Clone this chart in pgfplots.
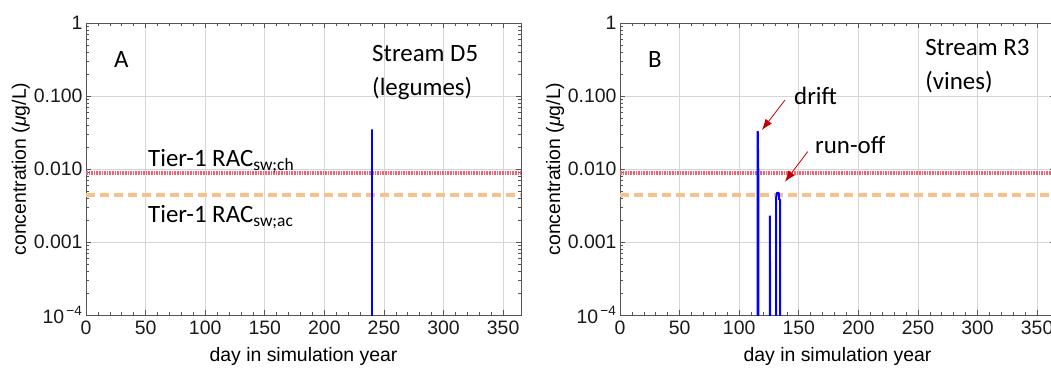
\documentclass[border=0pt]{standalone}
\usepackage{pgfplots}
\pgfplotsset{compat=1.18}
\usepackage{fontspec}
\setmainfont{Liberation Sans}
\newfontfamily\calib{Carlito}
\usetikzlibrary{arrows.meta}
\definecolor{refred}{HTML}{EE6275}
\definecolor{reforange}{HTML}{FBBF8A}
\definecolor{gridgray}{HTML}{D6D6D6}
\definecolor{framegray}{HTML}{555555}
\definecolor{arrowred}{HTML}{C00000}
\pgfplotsset{
  /pgfplots/mypanel/.style={
    scale only axis, width=435bp, height=292bp,
    xmin=0, xmax=365, ymin=1e-4, ymax=1,
    xtick={0,50,...,350}, minor x tick num=4,
    ytick={1e-4,1e-3,1e-2,1e-1,1},
    yticklabels={10\textsuperscript{\,−4},0.001,0.010,0.100,1},
    /pgf/number format/assume math mode=true,
    tick label style={font=\fontsize{19.5}{21}\selectfont, text=black!90},
    xticklabel style={yshift=-2bp},
    label style={font=\fontsize{19.5}{21}\selectfont},
    xlabel={day in simulation year},
    ylabel={concentration (\textit{μ}g/L)},
    xlabel style={yshift=-6bp},
    ylabel style={yshift=-3bp},
    grid=major, major grid style={gridgray, line width=0.8bp},
    axis line style={framegray, line width=0.8bp},
    major tick length=5bp, minor tick length=3bp,
    every tick/.style={framegray, line width=0.6bp},
  },
}
\begin{document}
\begin{tikzpicture}
\path[use as bounding box] (0,0) rectangle (1051bp,370bp);
% Panel A
\begin{semilogyaxis}[mypanel, at={(86bp,55bp)}, anchor=south west]
\addplot[refred, line width=3.4bp, dash pattern=on 1.5bp off 1.1bp] coordinates {(0,0.0088) (365,0.0088)};
\addplot[reforange, line width=3.2bp, dash pattern=on 9bp off 5bp] coordinates {(0,0.0044) (365,0.0044)};
\addplot[blue, line width=2bp, line join=bevel] coordinates {(239.7,1e-5) (239.7,0.035) (239.7,0.004) (240.1,0.004) (240.1,1e-5)};
\node[anchor=base west, inner sep=0, font=\calib\fontsize{25}{28}\selectfont] at (axis cs:23.5,0.242) {A};
\node[anchor=base west, inner sep=0, font=\calib\fontsize{25}{28}\selectfont] at (axis cs:240,0.295) {Stream D5};
\node[anchor=base west, inner sep=0, font=\calib\fontsize{25}{28}\selectfont] at (axis cs:240,0.103) {(legumes)};
\node[anchor=base west, inner sep=0, font=\calib\fontsize{25}{28}\selectfont] at (axis cs:52,0.01076) {Tier-1 RAC\textsubscript{sw;ch}};
\node[anchor=base west, inner sep=0, font=\calib\fontsize{25}{28}\selectfont] at (axis cs:52,0.00184) {Tier-1 RAC\textsubscript{sw;ac}};
\end{semilogyaxis}
% Panel B
\begin{semilogyaxis}[mypanel, at={(620bp,55bp)}, anchor=south west]
\addplot[refred, line width=3.4bp, dash pattern=on 1.5bp off 1.1bp] coordinates {(0,0.0088) (365,0.0088)};
\addplot[reforange, line width=3.2bp, dash pattern=on 9bp off 5bp] coordinates {(0,0.0044) (365,0.0044)};
\addplot[blue, line width=2bp, line join=bevel] coordinates {(115.4,1e-5) (115.4,0.033) (115.6,0.032) (116.0,0.01) (116.0,1e-5)};
\addplot[blue, line width=2bp, line join=bevel] coordinates {(125.8,1e-5) (125.8,0.0023) (126.0,1e-5)};
\addplot[blue, line width=2bp, line join=bevel] coordinates {(130.9,1e-5) (130.9,0.0039) (131.6,0.0047) (133.3,0.0047) (133.6,0.0038) (134.3,0.0038) (134.3,1e-5)};
\node[anchor=base west, inner sep=0, font=\calib\fontsize{25}{28}\selectfont] at (axis cs:23.5,0.242) {B};
\node[anchor=base west, inner sep=0, font=\calib\fontsize{25}{28}\selectfont] at (axis cs:256,0.364) {Stream R3};
\node[anchor=base west, inner sep=0, font=\calib\fontsize{25}{28}\selectfont] at (axis cs:256,0.123) {(vines)};
\node[anchor=base west, inner sep=0, font=\calib\fontsize{25}{28}\selectfont] at (axis cs:146,0.0776) {drift};
\node[anchor=base west, inner sep=0, font=\calib\fontsize{25}{28}\selectfont] at (axis cs:163.6,0.0164) {run-off};
\draw[arrowred, line width=0.8bp, -{Latex[length=11bp, width=8bp]}] (axis cs:138.4,0.088) -- (axis cs:119.1,0.0342);
\draw[arrowred, line width=0.8bp, -{Latex[length=11bp, width=8bp]}] (axis cs:157.5,0.0173) -- (axis cs:138.4,0.00668);
\end{semilogyaxis}
\end{tikzpicture}
\end{document}
